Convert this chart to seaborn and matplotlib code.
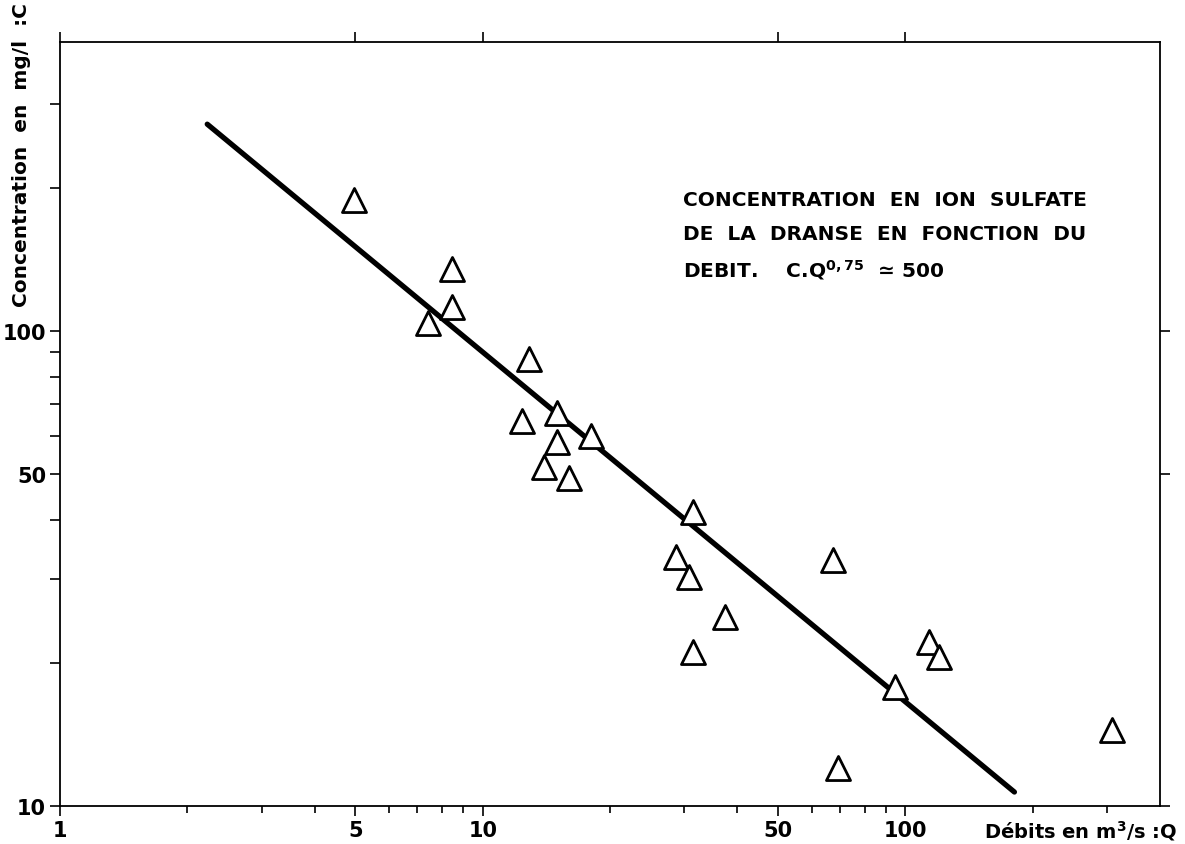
import matplotlib
matplotlib.use("Agg")
import matplotlib.pyplot as plt
import matplotlib.ticker as mticker
import seaborn as sns
import pandas as pd

# débits (m3/s) et concentrations en sulfate (mg/l)
debits = [4.96, 8.45, 8.45, 7.41, 12.9, 14.96, 12.37, 18.0, 14.96, 13.94, 15.97,
          31.5, 28.7, 30.7, 37.5, 31.4, 67.2, 113.9, 120.3, 94.2, 308.0, 69.1]
concentrations = [188.7, 135.1, 112.3, 104.0, 87.3, 67.1, 64.6, 60.1, 58.3, 51.7, 49.0,
                  41.6, 33.4, 30.3, 25.0, 21.1, 33.0, 22.1, 20.6, 17.8, 14.45, 12.0]

# droite C.Q^0.75 ~ 500 (extrémités)
line_q = [2.23, 181.0]
line_c = [272.0, 10.7]

x_major = [1, 5, 10, 50, 100]
x_minor = [2, 3, 4, 6, 7, 8, 9, 20, 30, 40, 60, 70, 80, 90, 200, 300]
y_major = [10, 50, 100]
y_minor = [20, 30, 40, 60, 70, 80, 90, 200, 300]

df = pd.DataFrame({"Q": debits, "C": concentrations})
df_line = pd.DataFrame({"Q": line_q, "C": line_c})

sns.set_style("ticks")
plt.rcParams['font.family'] = ['DejaVu Sans']
plt.rcParams['text.color'] = 'black'
plt.rcParams['xtick.color'] = 'black'
plt.rcParams['ytick.color'] = 'black'

fig = plt.figure(figsize=(11.85, 8.45), dpi=100)
ax = fig.add_axes([60 / 1185, 1 - 807 / 845, 1100 / 1185, 764 / 845])

sns.lineplot(data=df_line, x="Q", y="C", ax=ax, color="black", linewidth=3.8,
             solid_capstyle="round")
sns.scatterplot(data=df, x="Q", y="C", ax=ax, marker="^", s=300,
                facecolor="white", edgecolor="black", linewidth=2.0, zorder=3)

ax.set_xscale("log")
ax.set_yscale("log")
ax.set_xlim(1, 400)
ax.set_ylim(10, 405)

ax.xaxis.set_major_locator(mticker.FixedLocator(x_major))
ax.xaxis.set_major_formatter(mticker.FixedFormatter([str(v) for v in x_major]))
ax.xaxis.set_minor_locator(mticker.FixedLocator(x_minor))
ax.xaxis.set_minor_formatter(mticker.NullFormatter())
ax.yaxis.set_major_locator(mticker.FixedLocator(y_major))
ax.yaxis.set_major_formatter(mticker.FixedFormatter([str(v) for v in y_major]))
ax.yaxis.set_minor_locator(mticker.FixedLocator(y_minor))
ax.yaxis.set_minor_formatter(mticker.NullFormatter())

ax.tick_params(which="major", direction="out", length=7, width=1.2,
               labelsize=15, top=True, right=True, pad=3)
ax.tick_params(which="minor", direction="out", length=5, width=1.2,
               top=False, right=False)
ax.tick_params(axis="y", which="minor", length=7, left=True)
for lab in ax.get_xticklabels() + ax.get_yticklabels():
    lab.set_fontweight("bold")
for s in ax.spines.values():
    s.set_linewidth(1.3)
    s.set_color("black")

ax.set_xlabel("")
ax.set_ylabel("")

fig.text(22 / 1185, 1 - 3 / 845, "Concentration  en  mg/l  :C", rotation=90,
         ha="center", va="top", fontsize=14.5, fontweight="bold")
fig.text(1177 / 1185, 1 - 831 / 845, r"Débits en m$^{\mathbf{3}}$/s :Q",
         ha="right", va="center", fontsize=14, fontweight="bold")

ax.text(683 / 1185, 1 - 200 / 845, "CONCENTRATION  EN  ION  SULFATE",
        transform=fig.transFigure, ha="left", va="center", fontsize=14.5,
        fontweight="bold")
ax.text(683 / 1185, 1 - 235 / 845, "DE  LA  DRANSE  EN  FONCTION  DU",
        transform=fig.transFigure, ha="left", va="center", fontsize=14.5,
        fontweight="bold")
ax.text(683 / 1185, 1 - 270 / 845, r"DEBIT.    C.Q$^{\mathbf{0,75}}$  ≃ 500",
        transform=fig.transFigure, ha="left", va="center", fontsize=14.5,
        fontweight="bold")

fig.savefig("out.png", dpi=100)
